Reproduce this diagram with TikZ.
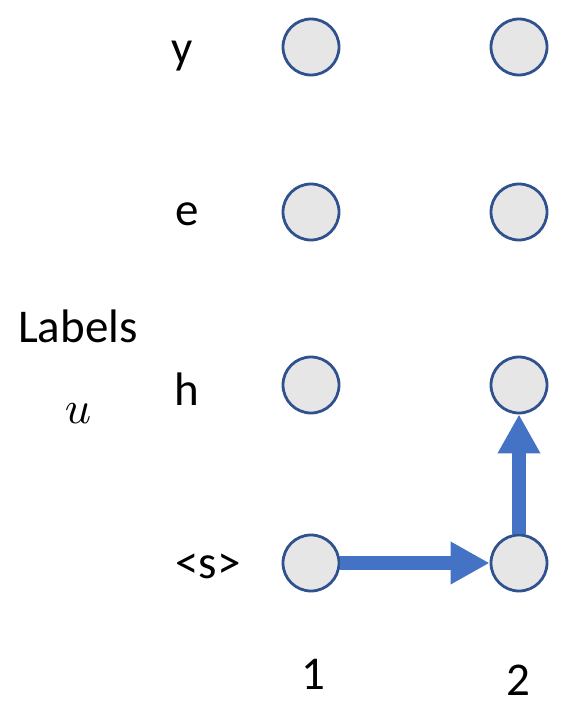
\documentclass[tikz,border=0pt]{standalone}
\usepackage{graphicx}
\usepackage{fontspec}
\setmainfont{Carlito}
\usetikzlibrary{arrows.meta}
\definecolor{nodefill}{HTML}{E6E6E6}
\definecolor{nodeedge}{HTML}{2F528F}
\definecolor{arrowblue}{HTML}{4472C4}
\begin{document}
\begin{tikzpicture}[x=1pt,y=-1pt,
  state/.style={circle,draw=nodeedge,fill=nodefill,line width=2.8pt,minimum size=56pt,inner sep=0pt},
  lab/.style={anchor=base,inner sep=0pt,font=\fontsize{47}{56}\selectfont},
  flow/.style={draw=arrowblue,line width=14pt,-{Triangle[length=39pt,width=40pt]}}]
\useasboundingbox (0,0) rectangle (564,707);
% grid of states
\node[state] (y1) at (311,47) {};
\node[state] (y2) at (519,47) {};
\node[state] (e1) at (311,212) {};
\node[state] (e2) at (519,212) {};
\node[state] (h1) at (311,385) {};
\node[state] (h2) at (519,385) {};
\node[state] (s1) at (311,563) {};
\node[state] (s2) at (519,563) {};
% row labels
\node[lab] (ty) at (182,63) {y};
\node[lab] (te) at (187,225) {e};
\node[lab] (th) at (187,405) {h};
\node[lab] (ts) at (208,578) {<s>};
\node[lab] (tl) at (78,342) {Labels};
\node[anchor=base,inner sep=0pt] (tu) at (78,423) {\scalebox{4.6}{$u$}};
% column labels
\node[lab] (c1) at (313,689) {1};
\node[lab] (c2) at (518,695) {2};
% path through the lattice
\draw[flow] (s1.east) -- (s2.west);
\draw[flow] (s2.north) -- (h2.south);
\end{tikzpicture}
\end{document}
